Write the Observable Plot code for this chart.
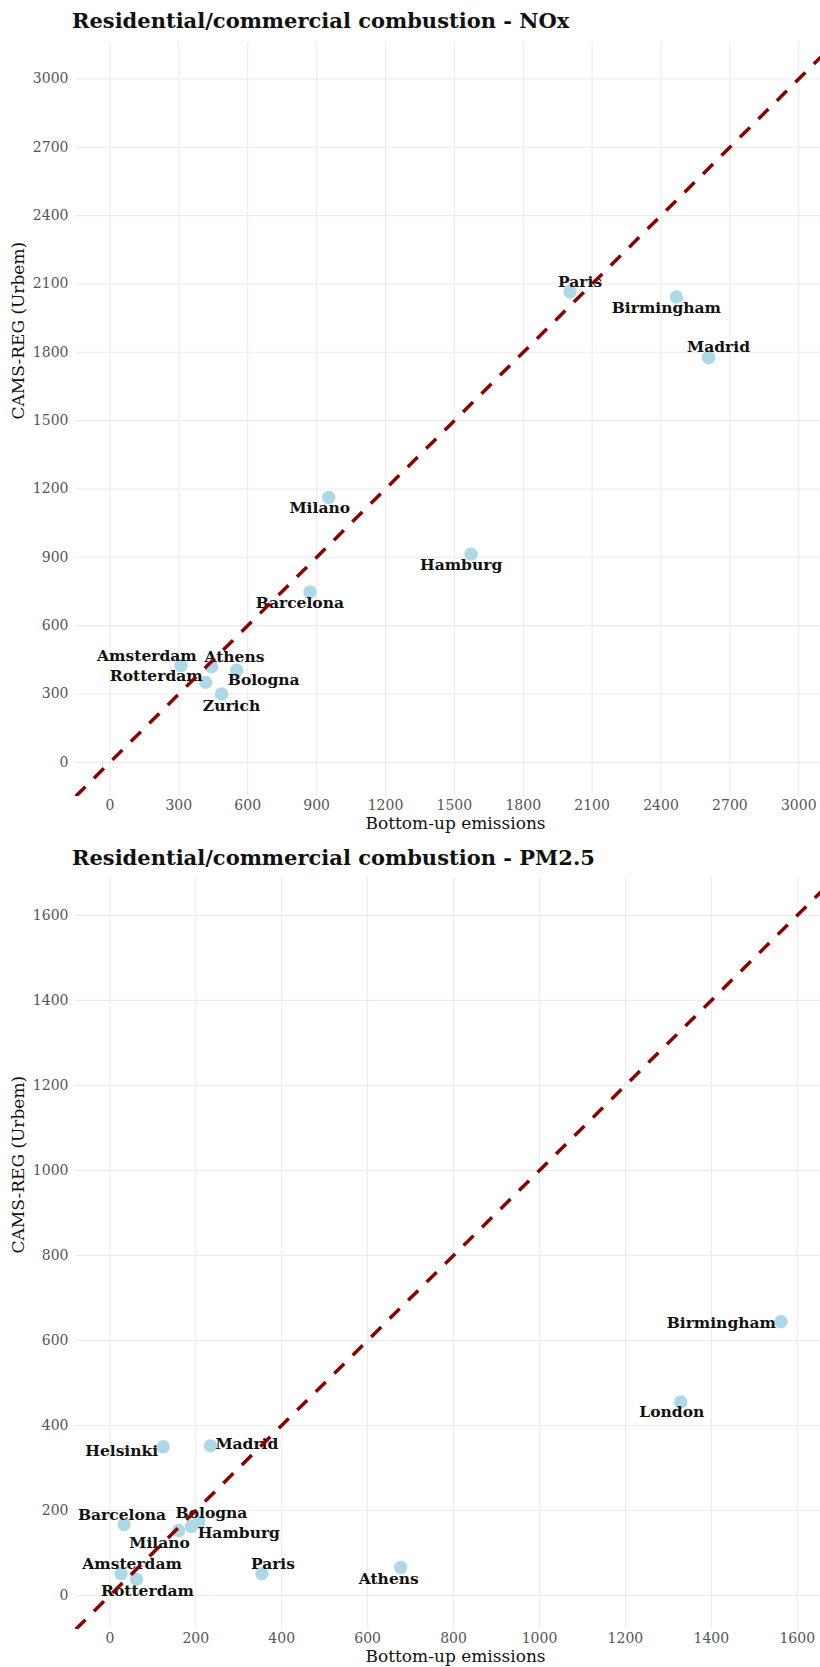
<!DOCTYPE html>
<html>
<head>
<meta charset="utf-8">
<script src="https://cdn.jsdelivr.net/npm/d3@7"></script>
<script src="https://cdn.jsdelivr.net/npm/@observablehq/plot@0.6"></script>
<style>
  html, body { margin: 0; padding: 0; background: #fff; }
  #page { position: relative; width: 820px; height: 1667px; overflow: hidden; font-family: "DejaVu Serif", serif; }
  .title { font-weight: bold; font-size: 21px; color: #111; padding-left: 72px; white-space: nowrap; }
  #t1 { height: 40px; line-height: 42px; }
  #t2 { height: 36px; line-height: 36px; }
  svg { display: block; overflow: visible; max-width: none !important; }
</style>
</head>
<body>
<div id="page">
  <div class="title" id="t1">Residential/commercial combustion - NOx</div>
  <div id="p1"></div>
  <div class="title" id="t2">Residential/commercial combustion - PM2.5</div>
  <div id="p2"></div>
</div>
<script>
// NOx: bottom-up inventory vs CAMS-REG (Urbem)
const noxCities   = ["Amsterdam", "Athens", "Bologna", "Rotterdam", "Zurich", "Barcelona", "Milano", "Hamburg", "Birmingham", "Madrid", "Paris"];
const noxBottomUp = [309, 442, 552, 417, 486, 871, 953, 1573, 2467, 2607, 2004];
const noxCamsReg  = [425, 419, 404, 351, 300, 748, 1163, 914, 2043, 1777, 2066];
const noxTicks    = [0, 300, 600, 900, 1200, 1500, 1800, 2100, 2400, 2700, 3000];
const noxLimits   = [-150, 3160];

// PM2.5: bottom-up inventory vs CAMS-REG (Urbem)
const pmCities   = ["Helsinki", "Madrid", "Barcelona", "Milano", "Bologna", "Hamburg", "Amsterdam", "Rotterdam", "Paris", "Athens", "London", "Birmingham"];
const pmBottomUp = [124, 234, 33, 160, 190, 207, 26, 62, 354, 677, 1329, 1562];
const pmCamsReg  = [350, 352, 167, 153, 162, 173, 51, 38, 51, 66, 455, 644];
const pmTicks    = [0, 200, 400, 600, 800, 1000, 1200, 1400, 1600];
const pmLimits   = [-80, 1689];

// label placement around each point: [dx, dy, anchor]
const noxLabelPlacement = {
  Amsterdam: [-34, -9, "middle"], Athens: [23, -10, "middle"], Bologna: [27, 10, "middle"],
  Rotterdam: [-3, -6, "end"], Zurich: [10, 12, "middle"], Barcelona: [-10, 11, "middle"],
  Milano: [-9, 11, "middle"], Hamburg: [-10, 11, "middle"], Birmingham: [-10, 11, "middle"],
  Madrid: [10, -11, "middle"], Paris: [10, -10, "middle"]
};
const pmLabelPlacement = {
  Helsinki: [-5, 4, "end"], Madrid: [5, -2, "start"], Barcelona: [-2, -9, "middle"],
  Milano: [-19, 13, "middle"], Bologna: [20, -14, "middle"], Hamburg: [40, 11, "middle"],
  Amsterdam: [11, -10, "middle"], Rotterdam: [11, 12, "middle"], Paris: [11, -10, "middle"],
  Athens: [-12, 12, "middle"], London: [-9, 10, "middle"], Birmingham: [-5, 1, "end"]
};

const FONT = "DejaVu Serif";

function scatterPanel({cities, bottomUp, camsReg, ticks, limits, placement, height, marginTop, marginBottom}) {
  const rows = cities.map((city, i) => ({city, x: bottomUp[i], y: camsReg[i]}));
  const labels = rows.map(r => {
    const [dx, dy, anchor] = placement[r.city];
    return Plot.text([r], {
      x: "x", y: "y", text: "city", dx, dy, textAnchor: anchor,
      fontWeight: "bold", fontSize: 15.5, fill: "#111"
    });
  });
  return Plot.plot({
    width: 835,
    height,
    marginLeft: 75,
    marginRight: 0,
    marginTop,
    marginBottom,
    style: {fontFamily: FONT, fontSize: "14px", color: "#555", background: "transparent", maxWidth: "none"},
    x: {domain: limits},
    y: {domain: limits},
    marks: [
      Plot.gridX(ticks, {stroke: "#ebebeb", strokeOpacity: 1, strokeWidth: 1.1}),
      Plot.gridY(ticks, {stroke: "#ebebeb", strokeOpacity: 1, strokeWidth: 1.1}),
      Plot.dot(rows, {x: "x", y: "y", r: 6.7, fill: "#add8e6", stroke: null}),
      ...labels,
      // 1:1 reference line across the whole panel
      Plot.link([{a: limits[0], b: limits[1]}], {
        x1: "a", y1: "a", x2: "b", y2: "b",
        stroke: "#8b0000", strokeWidth: 3.5, strokeDasharray: "14,12", clip: true
      }),
      Plot.axisX(ticks, {tickSize: 0, tickPadding: 4, label: null, tickFormat: d => String(d)}),
      Plot.axisY(ticks, {tickSize: 0, tickPadding: 7, label: null, tickFormat: d => String(d)}),
      Plot.text(["Bottom-up emissions"], {
        text: d => d, frameAnchor: "bottom", dy: 32, fontSize: 17, fill: "#111"
      }),
      Plot.text(["CAMS-REG (Urbem)"], {
        text: d => d, frameAnchor: "left", dx: -57, rotate: -90, fontSize: 17, fill: "#111"
      })
    ]
  });
}

document.getElementById("p1").append(scatterPanel({
  cities: noxCities, bottomUp: noxBottomUp, camsReg: noxCamsReg,
  ticks: noxTicks, limits: noxLimits, placement: noxLabelPlacement,
  height: 800, marginTop: 2, marginBottom: 44
}));

document.getElementById("p2").append(scatterPanel({
  cities: pmCities, bottomUp: pmBottomUp, camsReg: pmCamsReg,
  ticks: pmTicks, limits: pmLimits, placement: pmLabelPlacement,
  height: 810, marginTop: 1, marginBottom: 57
}));
</script>
</body>
</html>
